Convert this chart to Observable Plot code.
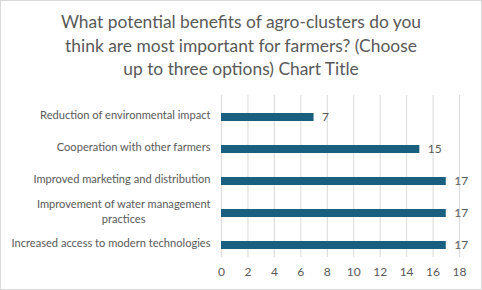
<!DOCTYPE html>
<html>
<head>
<meta charset="utf-8">
<script src="https://cdn.jsdelivr.net/npm/d3@7"></script>
<script src="https://cdn.jsdelivr.net/npm/@observablehq/plot@0.6"></script>
<style>
  html, body { margin: 0; padding: 0; background: #fff; }
  #wrap { position: relative; width: 482px; height: 290px; overflow: hidden; font-family: Lato, "Open Sans", sans-serif; }
  #frame { position: absolute; left: 0; top: 0; width: 482px; height: 290px; box-sizing: border-box; border: 1px solid #d9d9d9; pointer-events: none; }
  #title { position: absolute; left: 0; top: 10px; width: 482px; text-align: center; font-size: 17.4px; line-height: 23.5px; color: #595959; }
  #chart { position: absolute; left: 0; top: 88px; }
</style>
</head>
<body>
<div id="wrap">
  <div id="title">What potential benefits of agro-clusters do you<br>think are most important for farmers? (Choose<br>up to three options) Chart Title</div>
  <div id="chart"></div>
  <div id="frame"></div>
</div>
<script>
const categories = [
  "Reduction of environmental impact",
  "Cooperation with other farmers",
  "Improved marketing and distribution",
  "Improvement of water management\npractices",
  "Increased access to modern technologies"
];
const values = [7, 15, 17, 17, 17];
const xTicks = [0, 2, 4, 6, 8, 10, 12, 14, 16, 18];

const data = categories.map((c, i) => ({category: c, value: values[i]}));
const textColor = "#595959";

const chart = Plot.plot({
  width: 482,
  height: 202,
  marginLeft: 221,
  marginRight: 23,
  marginTop: 7,
  marginBottom: 33,
  style: {fontFamily: "Lato, 'Open Sans', sans-serif", fontSize: "12px", color: textColor, background: "transparent"},
  x: {domain: [0, 18], ticks: xTicks},
  y: {domain: categories, range: [12, 174], paddingInner: 0.75, paddingOuter: 0.375},
  marks: [
    Plot.ruleX(xTicks, {stroke: "#d9d9d9", strokeWidth: 1}),
    Plot.barX(data, {x: "value", y: "category", fill: "#195f80"}),
    Plot.text(data, {x: "value", y: "category", text: d => String(d.value), dx: 8, textAnchor: "start", fill: textColor, fontSize: 12}),
    Plot.axisX({ticks: xTicks, tickSize: 0, tickPadding: 10, fill: textColor, fontSize: 12, label: null}),
    Plot.axisY({tickSize: 0, tickPadding: 11, dy: -3, fill: textColor, fontSize: 11.1, label: null, lineHeight: 1.35})
  ]
});
document.getElementById("chart").appendChild(chart);

// center the lines of multi-line category labels relative to each other, block stays right-aligned
function centerLines() {
  chart.querySelectorAll("text").forEach(t => {
    const spans = Array.from(t.querySelectorAll("tspan"));
    if (spans.length > 1) {
      const widths = spans.map(s => s.getComputedTextLength());
      const maxW = Math.max(...widths);
      spans.forEach((s, i) => s.setAttribute("x", -(maxW - widths[i]) / 2));
    }
  });
}
centerLines();
</script>
</body>
</html>
